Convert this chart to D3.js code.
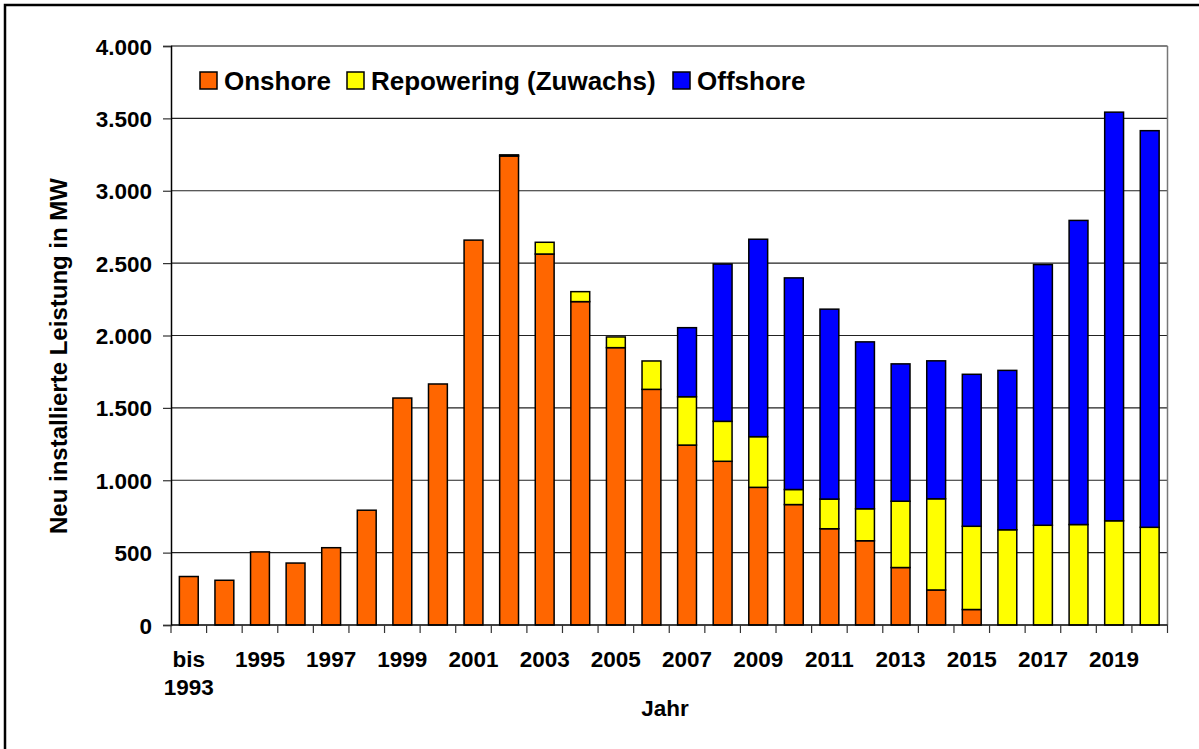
<!DOCTYPE html>
<html>
<head>
<meta charset="utf-8">
<script src="https://cdn.jsdelivr.net/npm/d3@7"></script>
<style>
  body { margin: 0; background: #fff; }
  text { font-family: "Liberation Sans", Arial, sans-serif; font-weight: bold; fill: #000; }
</style>
</head>
<body>
<script>
// Neu installierte Leistung (MW) pro Jahr
var years = ["bis 1993", "1994", "1995", "1996", "1997", "1998", "1999", "2000", "2001", "2002",
  "2003", "2004", "2005", "2006", "2007", "2008", "2009", "2010", "2011", "2012",
  "2013", "2014", "2015", "2016", "2017", "2018", "2019", "2020"];
var onshore = [335, 309, 505, 428, 534, 793, 1568, 1665, 2659, 3240,
  2563, 2234, 1916, 1628, 1243, 1131, 951, 832, 665, 582,
  397, 242, 107, 0, 0, 0, 0, 0];
var repowering = [0, 0, 0, 0, 0, 0, 0, 0, 0, 8,
  81, 69, 74, 196, 334, 276, 350, 104, 205, 221,
  458, 630, 575, 658, 689, 694, 720, 675];
var offshore = [0, 0, 0, 0, 0, 0, 0, 0, 0, 0,
  0, 0, 0, 0, 477, 1087, 1364, 1462, 1312, 1153,
  949, 953, 1050, 1101, 1801, 2101, 2823, 2740];
var seriesNames = ["Onshore", "Repowering (Zuwachs)", "Offshore"];
var colors = ["#FF6600", "#FFFF00", "#0000FF"];
var yTicks = [0, 500, 1000, 1500, 2000, 2500, 3000, 3500, 4000];
var shownLabels = ["bis 1993", "1995", "1997", "1999", "2001", "2003", "2005", "2007", "2009",
  "2011", "2013", "2015", "2017", "2019"];

var W = 1199, H = 749;
var pLeft = 171, pRight = 1167.5, pTop = 46, pBottom = 625;

var svg = d3.select("body").append("svg").attr("width", W).attr("height", H);

// outer frame
svg.append("rect").attr("x", 5).attr("y", 5).attr("width", 1250).attr("height", 800)
  .attr("fill", "none").attr("stroke", "#000").attr("stroke-width", 2.5);

var rows = years.map(function(y, i) {
  return { year: y, Onshore: onshore[i], "Repowering (Zuwachs)": repowering[i], Offshore: offshore[i] };
});

var x = d3.scaleBand().domain(years).range([pLeft, pRight]).padding(0);
var y = d3.scaleLinear().domain([0, 4000]).range([pBottom, pTop]);
var de = d3.formatLocale({ decimal: ",", thousands: ".", grouping: [3], currency: ["", " €"] });
var fmt = de.format(",d");

// gridlines
svg.append("g").selectAll("line").data(yTicks.filter(function(d) { return d > 0 && d < 4000; }))
  .enter().append("line")
  .attr("x1", pLeft).attr("x2", pRight)
  .attr("y1", function(d) { return y(d); }).attr("y2", function(d) { return y(d); })
  .attr("stroke", "#222").attr("stroke-width", 1.2);
svg.append("line").attr("x1", pLeft).attr("x2", pRight).attr("y1", y(4000)).attr("y2", y(4000))
  .attr("stroke", "#555").attr("stroke-width", 1.5);
svg.append("line").attr("x1", pRight).attr("x2", pRight).attr("y1", pTop).attr("y2", pBottom)
  .attr("stroke", "#777").attr("stroke-width", 1.5);

// bars
var stack = d3.stack().keys(seriesNames)(rows);
var barW = x.bandwidth() * 0.53;
svg.append("g").selectAll("g").data(stack).enter().append("g")
  .attr("fill", function(d, i) { return colors[i]; })
  .selectAll("rect")
  .data(function(d) { return d.filter(function(s) { return s[1] - s[0] > 0; }); })
  .enter().append("rect")
  .attr("x", function(d) { return x(d.data.year) + (x.bandwidth() - barW) / 2; })
  .attr("width", barW)
  .attr("y", function(d) { return y(d[1]); })
  .attr("height", function(d) { return y(d[0]) - y(d[1]); })
  .attr("stroke", "#000").attr("stroke-width", 1.5);

// y axis
var yAxis = svg.append("g").attr("transform", "translate(" + pLeft + ",0)")
  .call(d3.axisLeft(y).tickValues(yTicks).tickFormat(fmt).tickSize(8).tickPadding(11));
yAxis.select(".domain").attr("stroke", "#000").attr("stroke-width", 1.5);
yAxis.selectAll(".tick line").attr("stroke", "#333").attr("stroke-width", 1.2);
yAxis.selectAll("text").attr("font-size", 22.5).attr("font-family", "Liberation Sans, Arial, sans-serif")
  .attr("font-weight", "bold").attr("fill", "#000").attr("dy", "0.36em");

// x axis
var xg = svg.append("g").attr("transform", "translate(0," + pBottom + ")");
xg.append("line").attr("x1", pLeft).attr("x2", pRight).attr("stroke", "#000").attr("stroke-width", 1.5);
xg.selectAll("line.tk").data(years.concat(["end"])).enter().append("line").attr("class", "tk")
  .attr("x1", function(d) { return d === "end" ? pRight : x(d); })
  .attr("x2", function(d) { return d === "end" ? pRight : x(d); })
  .attr("y1", 0).attr("y2", 8).attr("stroke", "#333").attr("stroke-width", 1.2);
var lab = xg.selectAll("text.lb").data(shownLabels).enter().append("text").attr("class", "lb")
  .attr("text-anchor", "middle").attr("font-size", 22.5)
  .attr("x", function(d) { return x(d) + x.bandwidth() / 2; })
  .attr("y", 42);
lab.each(function(d) {
  var parts = d.split(" ");
  var t = d3.select(this);
  parts.forEach(function(p, i) {
    t.append("tspan").attr("x", x(d) + x.bandwidth() / 2).attr("dy", i === 0 ? 0 : 28).text(p);
  });
});

// axis titles
svg.append("text").attr("x", 665).attr("y", 716).attr("text-anchor", "middle")
  .attr("font-size", 22.5).text("Jahr");
svg.append("text").attr("transform", "translate(67,356) rotate(-90)")
  .attr("text-anchor", "middle").attr("font-size", 24)
  .text("Neu installierte Leistung in MW");

// legend
var legX = [200, 347, 673];
var leg = svg.append("g").selectAll("g").data(seriesNames).enter().append("g")
  .attr("transform", function(d, i) { return "translate(" + legX[i] + ",72)"; });
leg.append("rect").attr("width", 17).attr("height", 17)
  .attr("fill", function(d, i) { return colors[i]; })
  .attr("stroke", "#000").attr("stroke-width", 1.5);
leg.append("text").attr("x", 24).attr("y", 17.5).attr("font-size", 26).text(function(d) { return d; });
</script>
</body>
</html>
